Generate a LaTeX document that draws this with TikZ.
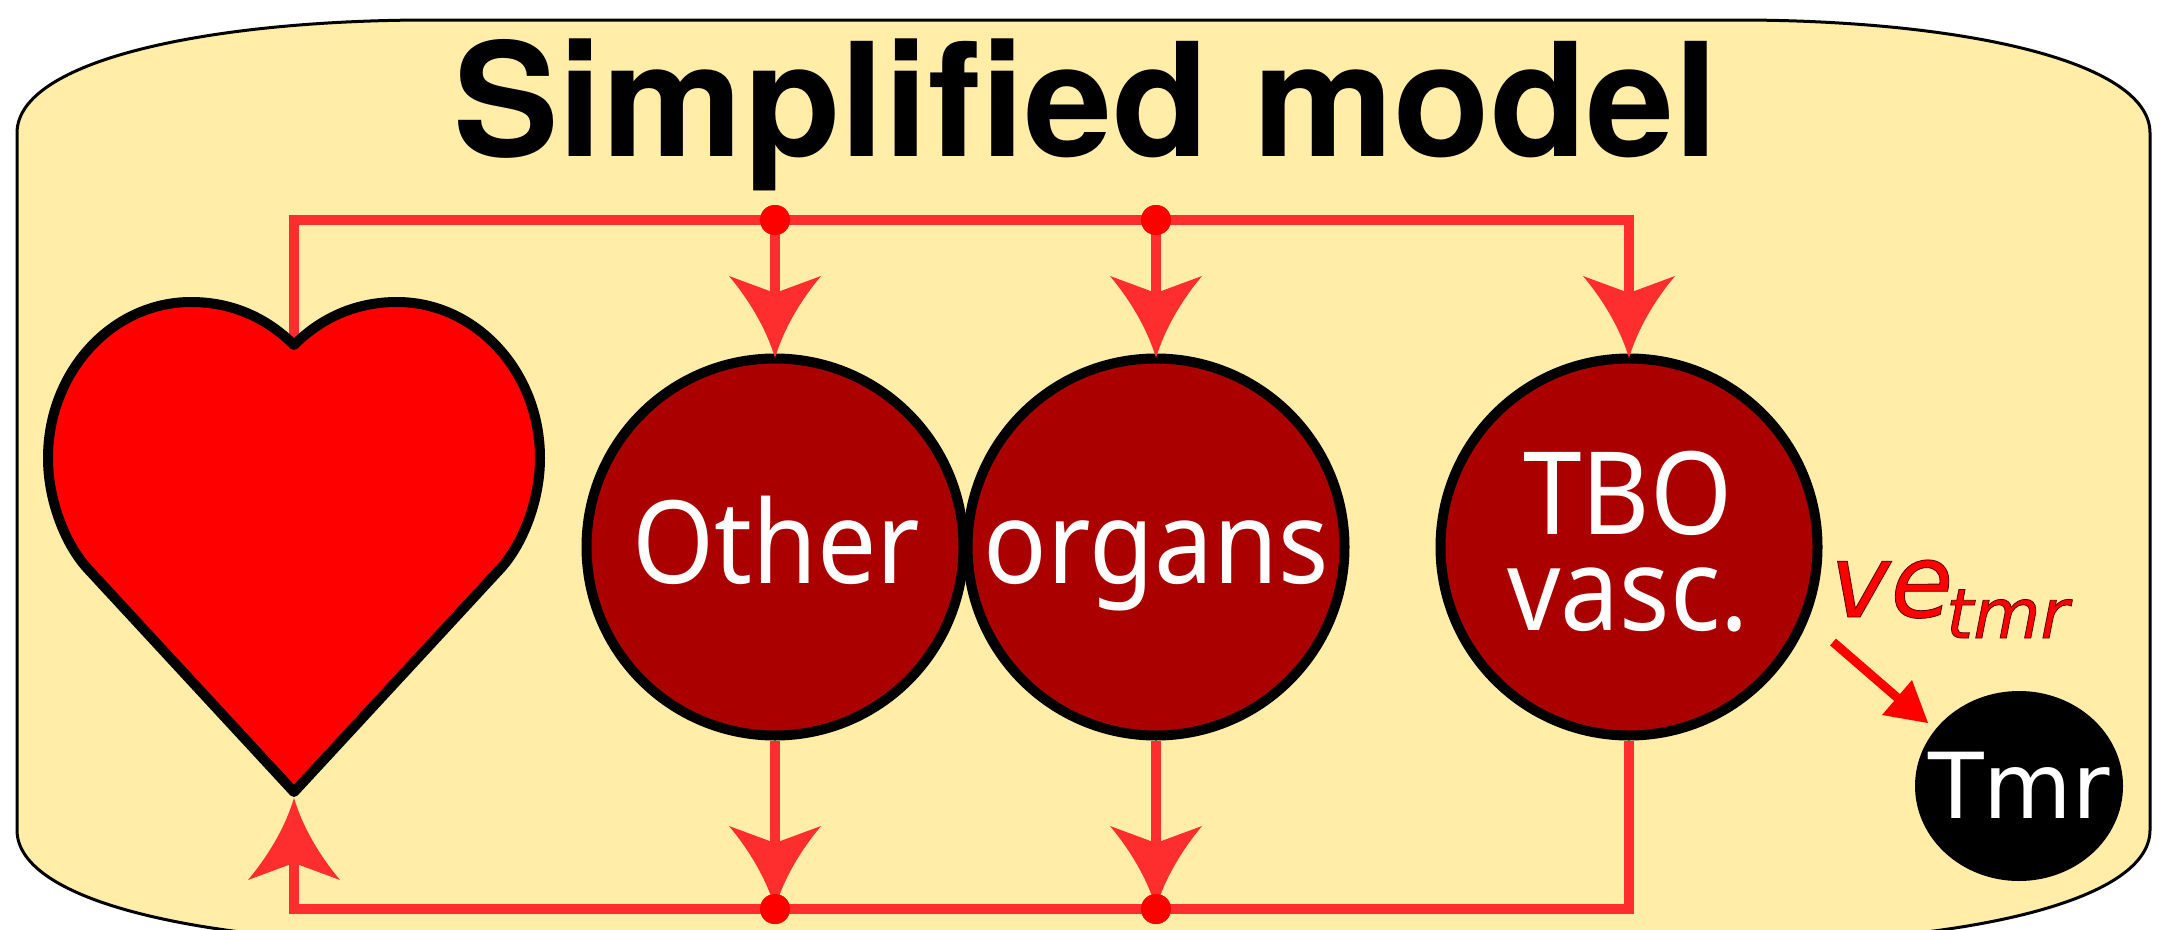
\documentclass[tikz,border=0pt]{standalone}
\usepackage{fontspec}
\usetikzlibrary{shapes.geometric}
\setmainfont{Noto Sans}
\newfontfamily\organfont[FakeStretch=0.915]{Noto Sans}
\newfontfamily\titlefont{TeX Gyre Heros}
\newfontfamily\vefont{DejaVu Sans}
\definecolor{panelfill}{HTML}{FFEDA8}
\definecolor{flowred}{HTML}{FF2E2E}
\definecolor{organred}{HTML}{AA0000}
\tikzset{
  x=1pt,y=-1pt,
  panel/.style={draw=black,line width=3pt,fill=panelfill},
  flow/.style={draw=flowred,line width=9.5pt},
  dotnode/.style={circle,fill=red,inner sep=0pt,minimum size=30pt},
  organ/.style={circle,draw=black,line width=10pt,fill=organred,minimum size=377pt,inner sep=0pt},
  organtext/.style={text=white,font=\organfont\fontsize{115}{96}\selectfont,inner sep=0pt,anchor=base,align=center},
}
\newcommand{\barbhead}[3]{% tip x, tip y, direction (+1 pointing down, -1 up)
  \fill[flowred] (#1,#2) .. controls ({#1-9},{#2-#3*30}) and ({#1-26},{#2-#3*58}) .. ({#1-46},{#2-#3*82})
    -- (#1,{#2-#3*65}) -- ({#1+46},{#2-#3*82})
    .. controls ({#1+26},{#2-#3*58}) and ({#1+9},{#2-#3*30}) .. (#1,#2) -- cycle;}
\newcommand{\outlined}{\special{pdf:code 2 Tr 0.8 w 0.35 0 0 RG}}
\newcommand{\unoutlined}{\special{pdf:code 0 Tr 1 w}}
\begin{document}
\begin{tikzpicture}
\useasboundingbox (0,0) rectangle (2165,929);
% panel
\path[panel] (17,133) .. controls (17,60) and (210,20) .. (430,20)
  -- (1737,20) .. controls (1957,20) and (2150,60) .. (2150,133)
  -- (2150,830) .. controls (2150,903) and (1957,943) .. (1737,943)
  -- (430,943) .. controls (210,943) and (17,903) .. (17,830) -- cycle;
\node[anchor=base,inner sep=0pt,font=\titlefont\bfseries\fontsize{158}{160}\selectfont] (title) at (1086,156) {Simplified model};
% nodes
\node[organ] (o1) at (775,547) {};
\node[organ] (o2) at (1156,547) {};
\node[organ] (o3) at (1629,547) {};
\node[dotnode] (dt1) at (775,220) {};
\node[dotnode] (dt2) at (1156,220) {};
\node[dotnode] (db1) at (775,909) {};
\node[dotnode] (db2) at (1156,909) {};
\coordinate (tl) at (294,220);
\coordinate (tr) at (1629,220);
\coordinate (bl) at (294,909);
\coordinate (br) at (1629,909);
\coordinate (notch) at (294,345);
\coordinate (tip) at (294,792);
% flows
\draw[flow,line join=miter] (notch) -- (tl) -- (tr) -- (1629,300);
\draw[flow] (dt1.center) -- (775,300);
\draw[flow] (dt2.center) -- (1156,300);
\draw[flow,line join=miter] (o3.south) -- (br) -- (bl) -- (294,850);
\draw[flow] (o1.south) -- (775,845);
\draw[flow] (o2.south) -- (1156,845);
% heart
\path[draw=black,line width=10pt,line join=round,fill=red] (notch)
  .. controls (270,321) and (236,302) .. (191,302)
  .. controls (112,302) and (48,372) .. (48,458)
  .. controls (48,503) and (67,546) .. (87,568)
  -- (tip) -- (501,568)
  .. controls (521,546) and (540,503) .. (540,458)
  .. controls (540,372) and (476,302) .. (397,302)
  .. controls (352,302) and (318,321) .. (notch) -- cycle;
\barbhead{775}{358}{1}
\barbhead{1156}{358}{1}
\barbhead{1629}{358}{1}
\barbhead{775}{908}{1}
\barbhead{1156}{908}{1}
\barbhead{294}{798}{-1}
\node[dotnode] at (dt1) {};
\node[dotnode] at (dt2) {};
\node[dotnode] at (db1) {};
\node[dotnode] at (db2) {};
% organ labels
\node[organtext] (lother) at (776,583) {Other};
\node[organtext] (lorgans) at (1156,583) {organs};
\node[organtext] (ltbo) at (1628,630) {TBO\\vasc.};
% tumour
\node[ellipse,fill=black,minimum width=208pt,minimum height=190pt,inner sep=0pt] (tmr) at (2019,786) {};
\node[text=white,inner sep=0pt,anchor=base,font=\vefont\fontsize{91}{91}\selectfont] (ltmr) at (2019,818) {Tmr};
% ve_tmr
\node[anchor=base west,inner sep=0pt,text=red,font=\vefont\itshape\fontsize{102}{102}\selectfont] (lve) at (1830,617) {\outlined ve\unoutlined};
\node[anchor=base west,inner sep=0pt,text=red,font=\vefont\itshape\fontsize{69}{69}\selectfont] (lsub) at (1946,638) {\outlined tmr\unoutlined};
\coordinate (vstart) at (1833,642);
\coordinate (vmid) at (1900,700);
\coordinate (vend) at (1928,723);
\draw[red,line width=9pt] (vstart) -- (vmid);
\fill[red] (vend) -- (1882,715) -- (1912,680) -- cycle;
\end{tikzpicture}
\end{document}
